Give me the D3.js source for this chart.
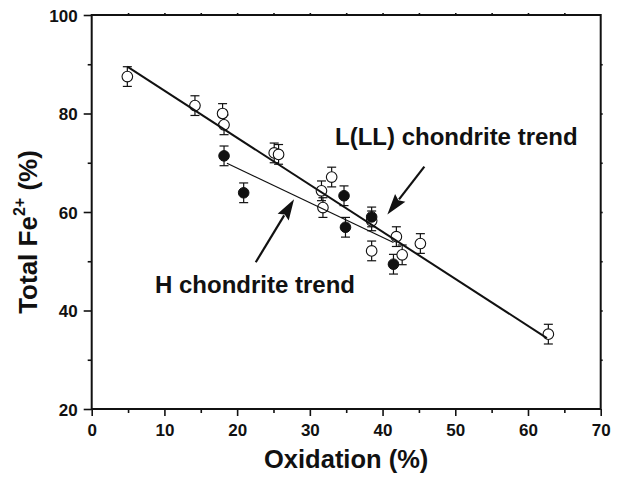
<!DOCTYPE html>
<html><head><meta charset="utf-8">
<script src="https://cdn.jsdelivr.net/npm/d3@7/dist/d3.min.js"></script>
<style>
html,body{margin:0;padding:0;background:#fff;}
svg{display:block;}
text{font-family:"Liberation Sans",Arial,Helvetica,sans-serif;font-weight:bold;fill:#111;}
</style></head>
<body>
<svg id="chart" width="618" height="477"></svg>
<script>
// ---- data ----
const openX = [4.9, 14.2, 18.0, 18.2, 25.1, 25.7, 31.6, 33.0, 31.8, 38.5, 38.5, 41.9, 42.7, 45.2, 62.8];
const openY = [87.5, 81.6, 80.0, 77.7, 72.0, 71.7, 64.3, 67.1, 60.9, 58.2, 52.1, 55.0, 51.3, 53.6, 35.2];
const openErr = [2, 2, 2, 2, 2, 2, 2, 2, 2, 2, 2, 2, 2, 2, 2];
const filledX = [18.2, 20.9, 34.7, 34.9, 38.5, 41.5];
const filledY = [71.4, 63.9, 63.3, 56.9, 59.0, 49.4];
const filledErr = [2, 2, 2, 2, 2, 2];
const lTrendX = [4.9, 62.6];
const lTrendY = [89.5, 34.4];
const hTrendX = [18.6, 41.5];
const hTrendY = [69.9, 53.8];
const xTicks = [0, 10, 20, 30, 40, 50, 60, 70];
const yTicks = [20, 40, 60, 80, 100];
const labelL = "L(LL) chondrite trend";
const labelH = "H chondrite trend";
const xTitle = "Oxidation (%)";
// arrows (data coordinates): [fromX, fromY, toX, toY]
const arrowL = [45.75, 69.2, 40.66, 59.5];
const arrowH = [22.56, 49.8, 27.83, 62.6];

// ---- layout ----
const L = 91.7, R = 600.7, T = 15, B = 409;
const svg = d3.select("#chart");
const x = d3.scaleLinear().domain([0, 70]).range([L, R]);
const y = d3.scaleLinear().domain([20, 100]).range([B, T]);
const ink = "#111";

// axes
const xMinor = d3.range(5, 70, 10);
const yMinor = d3.range(30, 100, 20);

const gx = svg.append("g").attr("transform", `translate(0,${B})`)
  .call(d3.axisBottom(x).tickValues(xTicks).tickFormat(d3.format("d")).tickSize(7).tickPadding(8));
const gxm = svg.append("g").attr("transform", `translate(0,${B})`)
  .call(d3.axisBottom(x).tickValues(xMinor).tickFormat("").tickSize(4));
const gy = svg.append("g").attr("transform", `translate(${L},0)`)
  .call(d3.axisLeft(y).tickValues(yTicks).tickFormat(d3.format("d")).tickSize(8).tickPadding(6));
const gym = svg.append("g").attr("transform", `translate(${L},0)`)
  .call(d3.axisLeft(y).tickValues(yMinor).tickFormat("").tickSize(4));
const gt = svg.append("g").attr("transform", `translate(0,${T})`)
  .call(d3.axisTop(x).tickValues(d3.range(5, 70, 5)).tickFormat("").tickSize(2));
const gr = svg.append("g").attr("transform", `translate(${R},0)`)
  .call(d3.axisRight(y).tickValues(d3.range(30, 100, 10)).tickFormat("").tickSize(2));

[gx, gxm, gy, gym, gt, gr].forEach(g => {
  g.select(".domain").remove();
  g.selectAll("line").attr("stroke", ink).attr("stroke-width", 1.6);
});
gx.selectAll("text").attr("font-size", 17).attr("fill", ink)
  .attr("font-family", '"Liberation Sans",Arial,sans-serif').attr("font-weight", "bold");
gy.selectAll("text").attr("font-size", 17).attr("fill", ink).attr("dy", "0.36em")
  .attr("font-family", '"Liberation Sans",Arial,sans-serif').attr("font-weight", "bold");

// frame
svg.append("rect").attr("x", L).attr("y", T).attr("width", R - L).attr("height", B - T)
  .attr("fill", "none").attr("stroke", ink).attr("stroke-width", 2);

// error bars
function errBars(xs, ys, es) {
  const g = svg.append("g").attr("stroke", ink).attr("stroke-width", 1.2);
  xs.forEach((xv, i) => {
    const cx = x(xv), y1 = y(ys[i] - es[i]), y2 = y(ys[i] + es[i]);
    g.append("line").attr("x1", cx).attr("x2", cx).attr("y1", y1).attr("y2", y2);
    g.append("line").attr("x1", cx - 4.5).attr("x2", cx + 4.5).attr("y1", y1).attr("y2", y1);
    g.append("line").attr("x1", cx - 4.5).attr("x2", cx + 4.5).attr("y1", y2).attr("y2", y2);
  });
}
errBars(openX, openY, openErr);
errBars(filledX, filledY, filledErr);

// points
svg.append("g").selectAll("circle").data(openX).join("circle")
  .attr("cx", d => x(d)).attr("cy", (d, i) => y(openY[i])).attr("r", 5.3)
  .attr("fill", "#fff").attr("stroke", ink).attr("stroke-width", 1.1);
svg.append("g").selectAll("circle").data(filledX).join("circle")
  .attr("cx", d => x(d)).attr("cy", (d, i) => y(filledY[i])).attr("r", 5.3)
  .attr("fill", ink).attr("stroke", ink).attr("stroke-width", 1);

// trend lines
const line = d3.line().x(d => x(d[0])).y(d => y(d[1]));
svg.append("path").attr("d", line(lTrendX.map((v, i) => [v, lTrendY[i]])))
  .attr("fill", "none").attr("stroke", ink).attr("stroke-width", 2);
svg.append("path").attr("d", line(hTrendX.map((v, i) => [v, hTrendY[i]])))
  .attr("fill", "none").attr("stroke", ink).attr("stroke-width", 1.2);

// arrows
function arrow(a) {
  const x1 = x(a[0]), y1 = y(a[1]), x2 = x(a[2]), y2 = y(a[3]);
  const dx = x2 - x1, dy = y2 - y1, len = Math.hypot(dx, dy);
  const ux = dx / len, uy = dy / len, hl = 21, hw = 6.5;
  const bx = x2 - ux * hl, by = y2 - uy * hl;
  svg.append("line").attr("x1", x1).attr("y1", y1).attr("x2", bx + ux * 2).attr("y2", by + uy * 2)
    .attr("stroke", ink).attr("stroke-width", 2.2);
  svg.append("path").attr("d",
    `M${x2},${y2} L${bx - uy * hw},${by + ux * hw} L${bx + ux * 3},${by + uy * 3} L${bx + uy * hw},${by - ux * hw} Z`)
    .attr("fill", ink);
}
arrow(arrowL);
arrow(arrowH);

// annotations
svg.append("text").attr("x", 335).attr("y", 145).attr("font-size", 24).text(labelL);
svg.append("text").attr("x", 155).attr("y", 293).attr("font-size", 24).text(labelH);

// axis titles
svg.append("text").attr("x", (L + R) / 2).attr("y", 468).attr("text-anchor", "middle")
  .attr("font-size", 25.5).text(xTitle);
const yt = svg.append("text").attr("transform", "translate(37,232) rotate(-90)")
  .attr("text-anchor", "middle").attr("font-size", 26);
yt.append("tspan").text("Total Fe");
yt.append("tspan").attr("font-size", 16).attr("dy", "-0.75em").text("2+");
yt.append("tspan").attr("dy", "0.47em").text(" (%)");
</script>
</body></html>
